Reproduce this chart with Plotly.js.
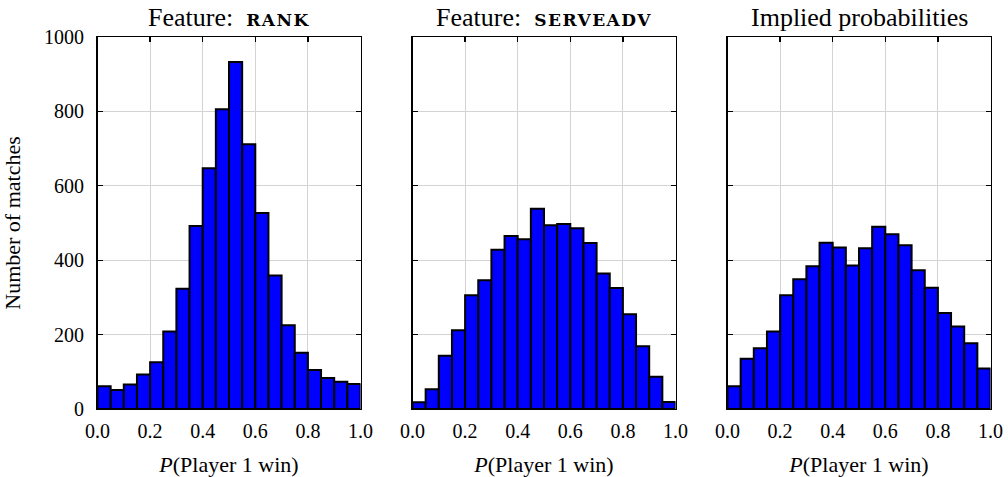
<!DOCTYPE html>
<html>
<head>
<meta charset="utf-8">
<script src="https://cdn.plot.ly/plotly-3.0.1.min.js"></script>
<style>html,body{margin:0;padding:0;background:#fff;}#chart{width:1008px;height:477px;}</style>
</head>
<body>
<div id="chart"></div>
<script>
// Histogram bin edges: 20 equal bins on [0, 1]
const binEdges = [0.00,0.05,0.10,0.15,0.20,0.25,0.30,0.35,0.40,0.45,0.50,
                  0.55,0.60,0.65,0.70,0.75,0.80,0.85,0.90,0.95,1.00];

// Match counts per bin for each predictor
const rankCounts = [61,51,66,93,126,208,323,492,647,806,933,712,527,359,225,151,105,83,73,67];
const serveadvCounts = [18,53,143,212,306,346,428,465,456,538,494,497,486,446,364,325,255,169,87,19];
const impliedCounts = [61,135,163,208,306,349,384,447,434,386,432,490,470,440,373,326,258,222,177,109];

// Feature names are set in bold small capitals
const sc = s => '<span style="font-family:DejaVu Serif;font-weight:bold;font-size:17px;letter-spacing:1.5px">' + s + '</span>';
const panelTitles = [
  'Feature:  ' + sc('RANK'),
  'Feature:  ' + sc('SERVEADV'),
  'Implied probabilities'
];
const xTickVals = [0, 0.2, 0.4, 0.6, 0.8, 1.0];
const xTickText = ['0.0', '0.2', '0.4', '0.6', '0.8', '1.0'];
const yTickVals = [0, 200, 400, 600, 800, 1000];

const binCenters = binEdges.slice(0, -1).map((e, i) => (e + binEdges[i + 1]) / 2);
const binWidths = binEdges.slice(0, -1).map((e, i) => binEdges[i + 1] - e);

const series = [rankCounts, serveadvCounts, impliedCounts];
const serif = 'Liberation Serif, DejaVu Serif, serif';
const tickFont = {family: serif, size: 20, color: '#000'};
const labelFont = {family: serif, size: 22, color: '#000'};

const traces = series.map((counts, k) => ({
  type: 'bar',
  x: binCenters,
  y: counts,
  width: binWidths,
  xaxis: k === 0 ? 'x' : 'x' + (k + 1),
  yaxis: k === 0 ? 'y' : 'y' + (k + 1),
  marker: {color: '#0000ff', line: {color: '#000', width: 2}},
  hoverinfo: 'x+y',
  showlegend: false
}));

const W = 1008, H = 477;
const xDomains = [[97.5, 360.5], [412.5, 675.5], [727.5, 990.5]];
const yDomain = [1 - 409 / H, 1 - 37 / H];

const layout = {
  width: W, height: H,
  margin: {l: 0, r: 0, t: 0, b: 0},
  paper_bgcolor: '#fff', plot_bgcolor: '#fff',
  font: tickFont,
  bargap: 0,
  annotations: [],
  showlegend: false
};

xDomains.forEach((d, k) => {
  const sfx = k === 0 ? '' : String(k + 1);
  layout['xaxis' + sfx] = {
    domain: [d[0] / W, d[1] / W],
    anchor: 'y' + sfx,
    range: [0, 1],
    tickvals: xTickVals, ticktext: xTickText,
    ticks: 'inside', ticklen: 5, tickwidth: 1.3, tickcolor: '#000',
    showline: true, linecolor: '#000', linewidth: 1.4, mirror: 'ticks',
    showgrid: true, gridcolor: '#d3d3d3', gridwidth: 1,
    zeroline: false,
    tickfont: tickFont,
    ticklabelstandoff: 4,
    title: {text: '<i>P</i>(Player 1 win)', font: labelFont, standoff: 16}
  };
  layout['yaxis' + sfx] = {
    domain: yDomain,
    anchor: 'x' + sfx,
    range: [0, 1000],
    tickvals: yTickVals,
    showticklabels: k === 0,
    ticks: 'inside', ticklen: 5, tickwidth: 1.3, tickcolor: '#000',
    showline: true, linecolor: '#000', linewidth: 1.4, mirror: 'ticks',
    showgrid: true, gridcolor: '#d3d3d3', gridwidth: 1,
    zeroline: false,
    tickfont: tickFont,
    ticklabelstandoff: 8,
    title: k === 0 ? {text: 'Number of matches', font: labelFont, standoff: 18} : {text: ''}
  };
  layout.annotations.push({
    text: panelTitles[k],
    xref: 'paper', yref: 'paper',
    x: (d[0] + d[1]) / 2 / W, y: 1 - 18 / H,
    xanchor: 'center', yanchor: 'middle',
    showarrow: false,
    font: {family: serif, size: 26, color: '#000'}
  });
});

Plotly.newPlot('chart', traces, layout, {displayModeBar: false, staticPlot: true});
</script>
</body>
</html>
